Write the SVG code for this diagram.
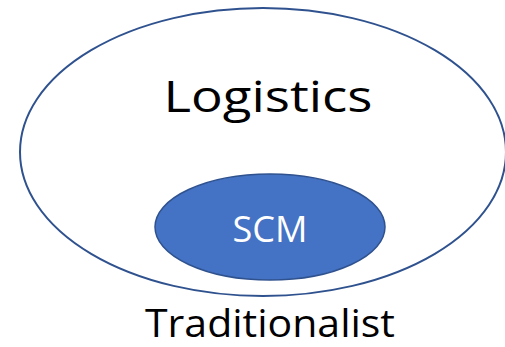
<svg xmlns="http://www.w3.org/2000/svg" width="505" height="347" viewBox="0 0 505 347">
<style>
.t{font-family:"Open Sans","Liberation Sans",sans-serif;}
</style>
<rect width="505" height="347" fill="#ffffff"/>
<g id="logistics">
<ellipse cx="263" cy="152" rx="243" ry="144" fill="#ffffff" stroke="#2F528F" stroke-width="2"/>
<text class="t" x="268" y="112" font-size="43" text-anchor="middle" fill="#000000" textLength="209" lengthAdjust="spacingAndGlyphs">Logistics</text>
</g>
<g id="scm">
<ellipse cx="270" cy="227" rx="115" ry="53" fill="#4472C4" stroke="#2F528F" stroke-width="1.5"/>
<text class="t" x="270" y="242" font-size="37" text-anchor="middle" fill="#ffffff" textLength="75" lengthAdjust="spacingAndGlyphs">SCM</text>
</g>
<g id="connectors"></g>
<text class="t" x="270" y="337" font-size="38" text-anchor="middle" fill="#000000" textLength="250" lengthAdjust="spacingAndGlyphs">Traditionalist</text>
</svg>
